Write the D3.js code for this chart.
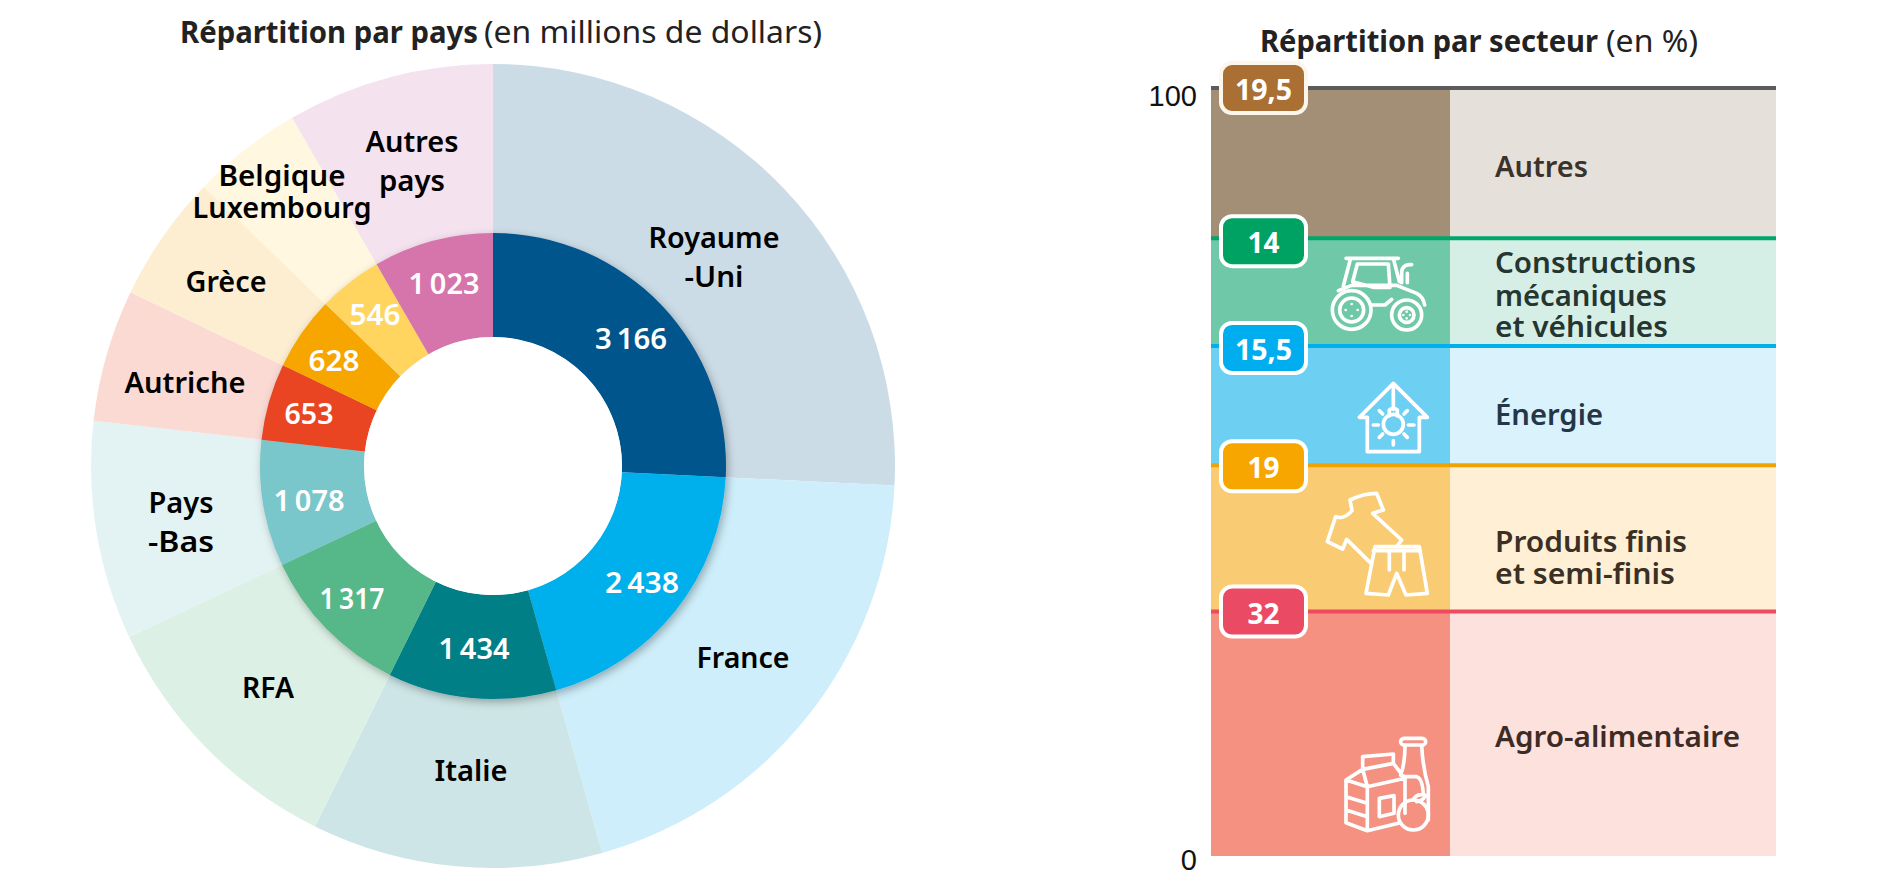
<!DOCTYPE html>
<html>
<head>
<meta charset="utf-8">
<script src="https://cdn.jsdelivr.net/npm/d3@7"></script>
<style>
body { margin: 0; background: #fff; }
svg { display: block; }
text { font-family: "Noto Sans", sans-serif; }
.icon { fill: none; stroke: #fff; stroke-width: 11; stroke-linejoin: round; stroke-linecap: round; }
</style>
</head>
<body>
<script>
// --- left chart data
var countries = [["Royaume", "-Uni"], ["France"], ["Italie"], ["RFA"], ["Pays", "-Bas"], ["Autriche"], ["Grèce"], ["Belgique", "Luxembourg"], ["Autres", "pays"]];
var countryValues = [3166, 2438, 1434, 1317, 1078, 653, 628, 546, 1023];
var countryDark = ["#00568c", "#00b0ec", "#007f87", "#57b888", "#79c7cb", "#e94422", "#f7a600", "#ffd55e", "#d675ab"];
var countryLight = ["#ccdce7", "#cdeefa", "#cde5e6", "#ddf0e6", "#e3f3f4", "#fbdad4", "#fdeed2", "#fff7e0", "#f5e2ef"];

// --- right chart data, bottom to top
var sectors = [["Agro-alimentaire"], ["Produits finis", "et semi-finis"], ["Énergie"], ["Constructions", "mécaniques", "et véhicules"], ["Autres"]];
var sectorValues = [32, 19, 15.5, 14, 19.5];
var sectorDark = ["#f49180", "#f9cb72", "#6dd0f3", "#6fc8a7", "#a38f76"];
var sectorLight = ["#fce1dd", "#feefd5", "#d9f2fb", "#d6efe6", "#e6e0da"];
var sectorLine = ["#ee4a60", "#f0a202", "#00b0ec", "#00a76a", "#5c5c5c"];
var sectorBadge = ["#ea4a64", "#f7a600", "#00aeef", "#00a264", "#a96f33"];
var sectorBadgeBorder = ["#fff", "#fff", "#fff", "#fff", "#fdf6ea"];
var sectorText = ["#3d2b24", "#3a3026", "#243647", "#25352f", "#3b332b"];
var axisTicks = [0, 100];

// --- label placement (x centre, baseline, width per line)
var outerPos = [
  [[714, 248, 131], [714, 287, 59]], [[743, 668, 93]], [[471, 781, 73]], [[268, 698, 52]],
  [[181, 513, 65], [181, 552, 66]], [[185, 393, 121]], [[226, 292, 81]],
  [[282, 186, 127], [282, 218, 179]], [[412, 152, 93], [412, 191, 66]]
];
var innerPos = [[631, 349, 72], [642, 593, 74], [474, 659, 71], [352, 609, 65], [309, 511, 71], [309, 424, 49], [334, 371, 51], [375, 325, 51], [444, 294, 71]];
var sectorPos = [[[747, 245]], [[552, 192], [584, 180]], [[425, 108]], [[273, 201], [306, 172], [337, 173]], [[177, 93]]];
var badgeDy = [0, 1, 2, 3, 0];

var fr = d3.formatLocale({decimal: ",", thousands: "\u2009", grouping: [3], currency: ["", ""]}).format(",");

var svg = d3.select("body").append("svg").attr("width", 1898).attr("height", 887);

var defs = svg.append("defs");
var shadow = defs.append("filter").attr("id", "ringShadow")
  .attr("x", "-10%").attr("y", "-10%").attr("width", "120%").attr("height", "120%");
shadow.append("feDropShadow").attr("dx", 2).attr("dy", 3).attr("stdDeviation", 4)
  .attr("flood-color", "#000").attr("flood-opacity", 0.3);
// column stops 2px above the scale's zero
defs.append("clipPath").attr("id", "columnClip").append("rect")
  .attr("x", 1200).attr("y", 60).attr("width", 600).attr("height", 796);

// titles
function title(x, y, bold, boldW, rest, restX, restW) {
  svg.append("text").attr("x", x).attr("y", y).attr("font-size", 30).attr("font-weight", 700).attr("fill", "#222")
    .attr("textLength", boldW).attr("lengthAdjust", "spacingAndGlyphs").text(bold);
  svg.append("text").attr("x", restX).attr("y", y).attr("font-size", 30).attr("fill", "#222")
    .attr("textLength", restW).attr("lengthAdjust", "spacingAndGlyphs").text(rest);
}
title(180, 43, "Répartition par pays", 298, "(en millions de dollars)", 484, 338);
title(1260, 52, "Répartition par secteur", 338, "(en %)", 1606, 92);

// --- donut
var cx = 493, cy = 466;
var pie = d3.pie().sort(null).value(function(d) { return d; });
var arcs = pie(countryValues);
var outerArc = d3.arc().innerRadius(200).outerRadius(402);
var innerArc = d3.arc().innerRadius(129).outerRadius(233);

var donut = svg.append("g").attr("transform", "translate(" + cx + "," + cy + ")");
donut.selectAll(".outer").data(arcs).enter().append("path")
  .attr("class", "outer")
  .attr("d", outerArc)
  .attr("fill", function(d, i) { return countryLight[i]; });

donut.append("g").attr("filter", "url(#ringShadow)")
  .selectAll(".inner").data(arcs).enter().append("path")
  .attr("class", "inner")
  .attr("d", innerArc)
  .attr("fill", function(d, i) { return countryDark[i]; });

donut.append("circle").attr("r", 129).attr("fill", "#fff");

countries.forEach(function(lines, i) {
  lines.forEach(function(line, j) {
    var p = outerPos[i][j];
    svg.append("text")
      .attr("x", p[0]).attr("y", p[1])
      .attr("text-anchor", "middle")
      .attr("font-size", 29).attr("font-weight", 600).attr("fill", "#000")
      .attr("textLength", p[2]).attr("lengthAdjust", "spacingAndGlyphs")
      .text(line);
  });
});

countryValues.forEach(function(v, i) {
  var p = innerPos[i];
  svg.append("text")
    .attr("x", p[0]).attr("y", p[1])
    .attr("text-anchor", "middle")
    .attr("font-size", 29).attr("font-weight", 600).attr("fill", "#fff")
    .attr("textLength", p[2]).attr("lengthAdjust", "spacingAndGlyphs")
    .text(fr(v));
});

// --- stacked column
var y = d3.scaleLinear().domain([0, 100]).range([858, 88]);
var tops = Array.from(d3.cumsum(sectorValues));
var bottoms = [0].concat(tops.slice(0, -1));
var x = d3.scaleOrdinal().domain(["dark", "light", "end"]).range([1211, 1450, 1776]);

var column = svg.append("g").attr("clip-path", "url(#columnClip)");
sectorValues.forEach(function(v, i) {
  column.append("rect")
    .attr("x", x("dark")).attr("width", x("light") - x("dark"))
    .attr("y", y(tops[i])).attr("height", y(bottoms[i]) - y(tops[i]))
    .attr("fill", sectorDark[i]);
  column.append("rect")
    .attr("x", x("light")).attr("width", x("end") - x("light"))
    .attr("y", y(tops[i])).attr("height", y(bottoms[i]) - y(tops[i]))
    .attr("fill", sectorLight[i]);
});

// icons, drawn in a 3x local frame
var icons = svg.append("g").attr("class", "icon");
function icon(tx, ty) {
  return icons.append("g").attr("transform", "translate(" + tx + "," + ty + ") scale(" + (1 / 3) + ")");
}
// tractor
var tractor = icon(1130, 10);
tractor.append("path").attr("d", "M648,745H805M662,745L640,828M790,745L808,815M682,762H775L780,832L730,832L668,815ZM625,842L665,826H800L860,850Q880,860 884,885M815,818V785Q818,762 845,764M832,818V790M725,885H765L785,868");
tractor.append("circle").attr("cx", 665).attr("cy", 900).attr("r", 58);
tractor.append("circle").attr("cx", 665).attr("cy", 900).attr("r", 36);
tractor.append("circle").attr("cx", 830).attr("cy", 915).attr("r", 45);
tractor.append("circle").attr("cx", 830).attr("cy", 915).attr("r", 22);
tractor.append("path").attr("stroke-width", 8).attr("d", "M665,882v.1M647,900v.1M683,900v.1M665,918v.1M830,905v.1M820,915v.1M840,915v.1M830,925v.1");
// house
var house = icon(1130, 330);
house.append("path").attr("d", "M712,262H688L790,160L892,262H868M712,262V365H868V262M790,160V238M778,258V240Q790,230 802,240V258M730,285H745M835,285H852M748,242L758,252M832,242L822,252M748,322L758,312M832,322L822,312M790,332V345");
house.append("circle").attr("cx", 790).attr("cy", 283).attr("r", 30);
// clothes
var clothes = icon(1130, 330);
clothes.append("path").attr("d", "M720,697L650,628L638,657L592,635L617,560Q642,570 666,542L660,510Q700,490 740,490L760,540L728,550L815,630L800,650");
clothes.append("path").attr("d", "M735,650H868L892,790L828,795L800,730L775,795L708,790ZM730,662H868M778,665V720M822,665V720");
// food
var food = icon(1130, 600);
food.append("path").attr("d", "M698,510V470L790,462V492M648,540L698,508L712,560L825,535V640M648,540L712,560V692L648,668ZM698,508L790,490L825,535M648,590L712,610M648,630L712,650M712,692L805,670M748,595L792,587V640L748,650ZM825,437Q825,490 812,525M875,437Q878,500 895,560V660M825,530H860Q878,535 880,585M850,598Q860,580 885,585Q885,600 860,605");
food.append("rect").attr("x", 812).attr("y", 415).attr("width", 75).attr("height", 20).attr("rx", 10);
food.append("circle").attr("cx", 850).attr("cy", 645).attr("r", 45);

// separator lines
sectorValues.forEach(function(v, i) {
  svg.append("line")
    .attr("x1", x("dark")).attr("x2", x("end"))
    .attr("y1", y(tops[i])).attr("y2", y(tops[i]))
    .attr("stroke", sectorLine[i]).attr("stroke-width", 4);
});

// badges
sectorValues.forEach(function(v, i) {
  var by = y(tops[i]) + badgeDy[i];
  svg.append("rect")
    .attr("x", x("dark") + 10).attr("y", by - 25).attr("width", 85).attr("height", 50).attr("rx", 11)
    .attr("fill", sectorBadge[i]).attr("stroke", sectorBadgeBorder[i]).attr("stroke-width", 4);
  svg.append("text")
    .attr("x", x("dark") + 52.5).attr("y", by + 12)
    .attr("text-anchor", "middle")
    .attr("font-size", 29).attr("font-weight", 700).attr("fill", "#fff")
    .attr("textLength", String(v).length > 2 ? 57 : 32).attr("lengthAdjust", "spacingAndGlyphs")
    .text(fr(v));
});

// sector labels
sectors.forEach(function(lines, i) {
  lines.forEach(function(line, j) {
    var p = sectorPos[i][j];
    svg.append("text")
      .attr("x", 1495).attr("y", p[0])
      .attr("font-size", 29).attr("font-weight", 600).attr("fill", sectorText[i])
      .attr("textLength", p[1]).attr("lengthAdjust", "spacingAndGlyphs")
      .text(line);
  });
});

// axis
var axis = svg.append("g")
  .attr("transform", "translate(1197,0)")
  .call(d3.axisLeft(y).tickValues(axisTicks).tickSize(0).tickPadding(0));
axis.select(".domain").remove();
axis.selectAll("text")
  .attr("font-size", 29)
  .attr("fill", "#111")
  .style("font-family", "'Liberation Sans', sans-serif")
  .attr("dy", function(d) { return d === 0 ? 11 : 17; });
</script>
</body>
</html>
